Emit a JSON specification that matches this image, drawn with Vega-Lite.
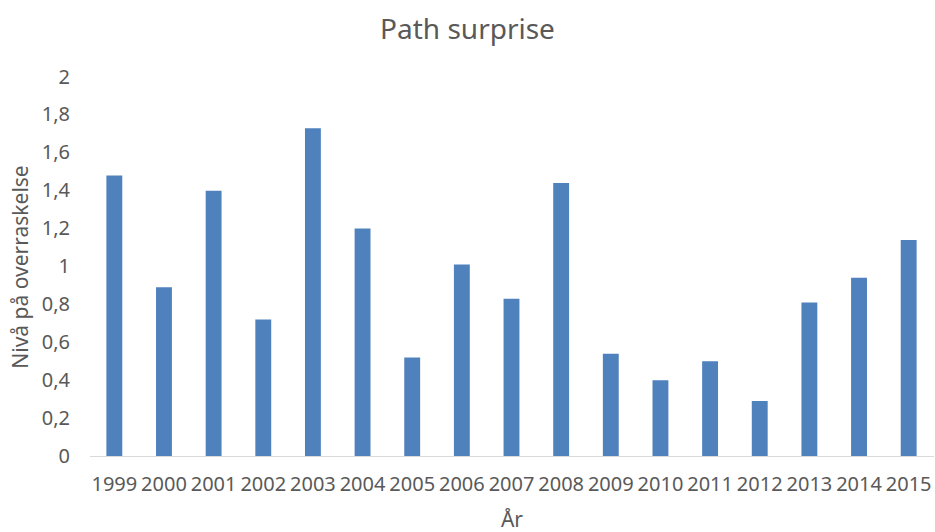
{
  "$schema": "https://vega.github.io/schema/vega-lite/v6.json",
  "autosize": {"type": "none"},
  "width": 844,
  "height": 379,
  "padding": {"left": 89.5, "top": 77, "right": 1.5, "bottom": 76},
  "background": "white",
  "title": {
    "text": "Path surprise",
    "font": "Noto Sans",
    "fontSize": 28,
    "fontWeight": "normal",
    "color": "#595959",
    "anchor": "middle",
    "offset": 22,
    "dx": -44
  },
  "data": {
    "values": [
      {"year": "1999", "value": 1.48},
      {"year": "2000", "value": 0.89},
      {"year": "2001", "value": 1.40},
      {"year": "2002", "value": 0.72},
      {"year": "2003", "value": 1.73},
      {"year": "2004", "value": 1.20},
      {"year": "2005", "value": 0.52},
      {"year": "2006", "value": 1.01},
      {"year": "2007", "value": 0.83},
      {"year": "2008", "value": 1.44},
      {"year": "2009", "value": 0.54},
      {"year": "2010", "value": 0.40},
      {"year": "2011", "value": 0.50},
      {"year": "2012", "value": 0.29},
      {"year": "2013", "value": 0.81},
      {"year": "2014", "value": 0.94},
      {"year": "2015", "value": 1.14}
    ]
  },
  "mark": {"type": "bar", "color": "#4F81BD"},
  "encoding": {
    "x": {
      "field": "year",
      "type": "ordinal",
      "scale": {"paddingInner": 0.68, "paddingOuter": 0.34},
      "axis": {
        "title": "År",
        "labelAngle": 0,
        "ticks": false,
        "domainColor": "#D9D9D9",
        "domainWidth": 1,
        "labelFont": "Noto Sans",
        "labelFontSize": 20,
        "labelColor": "#595959",
        "labelPadding": 18,
        "titleFont": "Noto Sans",
        "titleFontSize": 21,
        "titleFontWeight": "normal",
        "titleColor": "#595959",
        "titlePadding": 15
      }
    },
    "y": {
      "field": "value",
      "type": "quantitative",
      "scale": {"domain": [0, 2]},
      "axis": {
        "title": "Nivå på overraskelse",
        "values": [0, 0.2, 0.4, 0.6, 0.8, 1, 1.2, 1.4, 1.6, 1.8, 2],
        "labelExpr": "replace(format(datum.value, '.1~f'), '.', ',')",
        "grid": false,
        "domain": false,
        "ticks": false,
        "labelFont": "Noto Sans",
        "labelFontSize": 20,
        "labelColor": "#595959",
        "labelPadding": 20,
        "titleFont": "Noto Sans",
        "titleFontSize": 21,
        "titleFontWeight": "normal",
        "titleColor": "#595959",
        "titlePadding": 10
      }
    }
  },
  "config": {"view": {"stroke": null}}
}
